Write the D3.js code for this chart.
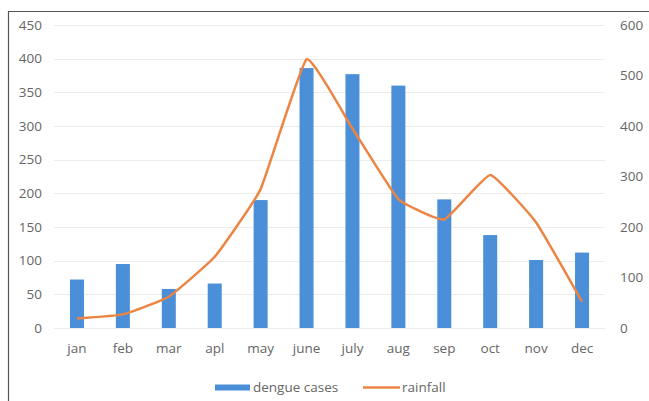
<!DOCTYPE html>
<html>
<head>
<meta charset="utf-8">
<script src="https://cdn.jsdelivr.net/npm/d3@7"></script>
<style>
  html, body { margin: 0; padding: 0; background: #fff; }
  svg { display: block; }
  text { font-family: "Open Sans", "Noto Sans", sans-serif; }
</style>
</head>
<body>
<svg id="chart" width="649" height="401"></svg>
<script>
// Monthly dengue cases (left axis) and rainfall (right axis)
const months = ["jan", "feb", "mar", "apl", "may", "june", "july", "aug", "sep", "oct", "nov", "dec"];
const dengueCases = [72, 95, 58, 66, 190, 386, 377, 360, 191, 138, 101, 112];
const rainfall = [19, 27, 62, 141, 275, 532, 395, 255, 215, 303, 209, 52];
const leftTicks = [0, 50, 100, 150, 200, 250, 300, 350, 400, 450];
const rightTicks = [0, 100, 200, 300, 400, 500, 600];

const svg = d3.select("#chart");
const W = 649, H = 401;
const plot = { left: 54, right: 605, top: 25, bottom: 328 };
const textColor = "#666";
const fontSize = "13.5px";

// Frame around the chart area
svg.append("path")
  .attr("d", `M8.5,${H + 2} V11.5 H${W + 2}`)
  .attr("fill", "none")
  .attr("stroke", "#555")
  .attr("stroke-width", 1.2);

const x = d3.scaleBand().domain(months).range([plot.left, plot.right]).paddingInner(0).paddingOuter(0);
const yL = d3.scaleLinear().domain([0, 450]).range([plot.bottom, plot.top]);
const yR = d3.scaleLinear().domain([0, 600]).range([plot.bottom, plot.top]);

// Horizontal gridlines
svg.append("g")
  .selectAll("line")
  .data(leftTicks)
  .join("line")
  .attr("x1", plot.left).attr("x2", plot.right)
  .attr("y1", d => Math.round(yL(d)) + 0.5).attr("y2", d => Math.round(yL(d)) + 0.5)
  .attr("stroke", "#ececec")
  .attr("stroke-width", 1);

// Left axis
const leftAxis = svg.append("g")
  .attr("transform", `translate(${plot.left},0)`)
  .call(d3.axisLeft(yL).tickValues(leftTicks).tickSize(0).tickPadding(12));
leftAxis.select(".domain").remove();
leftAxis.selectAll("text").attr("fill", textColor).style("font-size", fontSize);

// Right axis
const rightAxis = svg.append("g")
  .attr("transform", `translate(${plot.right},0)`)
  .call(d3.axisRight(yR).tickValues(rightTicks).tickSize(0).tickPadding(15));
rightAxis.select(".domain").remove();
rightAxis.selectAll("text").attr("fill", textColor).style("font-size", fontSize);

// Category axis
const bottomAxis = svg.append("g")
  .attr("transform", `translate(0,${plot.bottom})`)
  .call(d3.axisBottom(x).tickSize(0).tickPadding(15));
bottomAxis.select(".domain").remove();
bottomAxis.selectAll("text").attr("fill", textColor).style("font-size", fontSize);

// Bars: dengue cases
const barW = 14;
svg.append("g")
  .selectAll("rect")
  .data(months.map((m, i) => ({ m, v: dengueCases[i] })))
  .join("rect")
  .attr("x", d => x(d.m) + x.bandwidth() / 2 - barW / 2)
  .attr("y", d => yL(d.v))
  .attr("width", barW)
  .attr("height", d => yL(0) - yL(d.v))
  .attr("fill", "#4a8fd8");

// Lightly smoothed line: rainfall
const line = d3.line()
  .x((d, i) => x(months[i]) + x.bandwidth() / 2)
  .y(d => yR(d))
  .curve(d3.curveCardinal.tension(0.65));
svg.append("path")
  .datum(rainfall)
  .attr("d", line)
  .attr("fill", "none")
  .attr("stroke", "#ec8443")
  .attr("stroke-width", 2.5)
  .attr("stroke-linejoin", "round");

// Legend
const legend = svg.append("g");
legend.append("rect")
  .attr("x", 215).attr("y", 384.5).attr("width", 35).attr("height", 6)
  .attr("fill", "#4a8fd8");
legend.append("text")
  .attr("x", 253).attr("y", 392)
  .attr("fill", textColor).style("font-size", fontSize)
  .text("dengue cases");
legend.append("line")
  .attr("x1", 363).attr("x2", 400).attr("y1", 387.5).attr("y2", 387.5)
  .attr("stroke", "#ec8443").attr("stroke-width", 2.5);
legend.append("text")
  .attr("x", 402).attr("y", 392)
  .attr("fill", textColor).style("font-size", fontSize)
  .text("rainfall");
</script>
</body>
</html>
